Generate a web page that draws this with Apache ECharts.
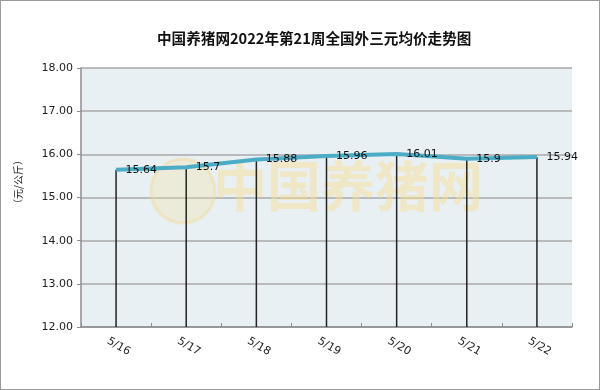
<!DOCTYPE html>
<html><head><meta charset="utf-8">
<script src="https://cdn.jsdelivr.net/npm/echarts@6/dist/echarts.min.js"></script>
<style>html,body{margin:0;padding:0;background:#fff}#c{width:598px;height:388px;border:1px solid #9a9a9a}</style>
</head><body><div id="c"></div>
<script>
const categories = ['5/16','5/17','5/18','5/19','5/20','5/21','5/22'];
const prices = [15.64, 15.7, 15.88, 15.96, 16.01, 15.9, 15.94];
const yTicks = [12, 13, 14, 15, 16, 17, 18];
const titleText = '中国养猪网2022年第21周全国外三元均价走势图';
const yName = '（元/公斤）';
const watermark = '中国养猪网';

const chart = echarts.init(document.getElementById('c'));
chart.setOption({
  backgroundColor: '#fff',
  animation: false,
  title: {
    text: titleText, left: 151, top: 25,
    textStyle: {fontFamily: 'Noto Sans CJK SC', fontWeight: 'bold', fontSize: 14.6, color: '#111'}
  },
  graphic: [{
    type: 'text', left: 212, top: 158, z: 1,
    style: {text: watermark, font: 'bold 54px "Noto Sans CJK SC"', fill: 'rgba(245,222,150,0.5)'}
  }, {
    type: 'circle', shape: {cx: 182, cy: 190, r: 32}, z: 1,
    style: {fill: 'rgba(245,225,160,0.3)', stroke: 'rgba(240,215,140,0.4)', lineWidth: 3}
  }, {
    type: 'text', x: 17, y: 181, rotation: Math.PI / 2, z: 5,
    style: {text: yName, font: '10px "Noto Sans CJK SC"', fill: '#222', align: 'center', verticalAlign: 'middle'}
  }],
  grid: {left: 80, right: 27, top: 67, bottom: 62, show: true, backgroundColor: '#E9F0F4', borderWidth: 0},
  xAxis: {
    type: 'category', data: categories, boundaryGap: true,
    axisLine: {lineStyle: {color: '#8c8c8c', width: 1.5}},
    axisTick: {show: true, inside: true, length: 4, lineStyle: {color: '#8c8c8c'}},
    axisLabel: {rotate: -30, margin: 18, align: 'center', verticalAlign: 'middle', padding: [0, 0, 0, 6], fontSize: 11, color: '#222', fontFamily: 'DejaVu Sans'}
  },
  yAxis: {
    type: 'value', min: yTicks[0], max: yTicks[yTicks.length - 1], interval: 1,
    axisLine: {show: true, lineStyle: {color: '#8c8c8c', width: 1.5}},
    axisTick: {show: true, length: 4, lineStyle: {color: '#8c8c8c'}},
    axisLabel: {formatter: v => v.toFixed(2), fontSize: 11, color: '#222', margin: 8, fontFamily: 'DejaVu Sans'},
    splitLine: {lineStyle: {color: '#a8a8a8', width: 1.5}}
  },
  series: [{
    type: 'bar', data: prices, barWidth: 1.5, clip: true, z: 3,
    itemStyle: {color: '#222'}, silent: true
  }, {
    type: 'line', data: prices, symbol: 'circle', symbolSize: 1, showSymbol: true, z: 4,
    itemStyle: {color: 'rgba(0,0,0,0)'},
    lineStyle: {color: '#4BACC6', width: 4},
    label: {show: true, position: 'right', distance: 9, fontSize: 11, color: '#111', fontFamily: 'DejaVu Sans'}
  }]
});
</script></body></html>
